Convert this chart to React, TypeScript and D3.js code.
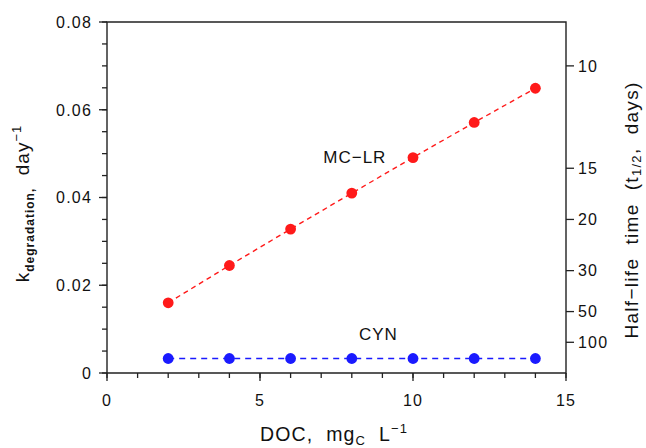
import React from "react";
import * as d3 from "d3";

const docValues = [2, 4, 6, 8, 10, 12, 14];
const mclrK = [0.0160, 0.0245, 0.0328, 0.0410, 0.0491, 0.0571, 0.0649];
const cynK = [0.0033, 0.0033, 0.0033, 0.0033, 0.0033, 0.0033, 0.0033];
const xTicks = [0, 5, 10, 15];
const yTicks = [0, 0.02, 0.04, 0.06, 0.08];
const halfLifeTicks = [10, 15, 20, 30, 50, 100];
const HALF_LIFE_CONST = 0.7;

const W = 646;
const H = 448;
const FONT = "'Liberation Sans', Arial, sans-serif";
const pre = { whiteSpace: "pre" as const };

export default function App() {
  const x = d3.scaleLinear().domain([0, 15]).range([107, 566]);
  const y = d3.scaleLinear().domain([0, 0.08]).range([373, 22]);
  const [x0, x1] = x.range();
  const [y0, y1] = y.range();

  const xMinor = d3.range(0, 15.01, 1);
  const yMinor = d3.range(0, 0.0801, 0.005);

  const line = d3
    .line<number>()
    .x((_, i) => x(docValues[i]))
    .y((d) => y(d));

  const tickStyle = { stroke: "#222", strokeWidth: 1.3 };

  return (
    <svg
      width={W}
      height={H}
      style={{ position: "absolute", left: 0, top: 0, background: "#fff" }}
      fontFamily={FONT}
    >
      <rect x={0} y={0} width={W} height={H} fill="#fff" />
      <path
        d={`M${x0},${y1} L${x0},${y0} L${x1},${y0} L${x1},${y1} Z`}
        fill="none"
        stroke="#222"
        strokeWidth={1.4}
      />
      {yMinor.map((v, i) => (
        <line key={"ym" + i} x1={x0 - 5} x2={x0} y1={y(v)} y2={y(v)} {...tickStyle} />
      ))}
      {yTicks.map((v) => (
        <g key={"yt" + v}>
          <line x1={x0 - 8} x2={x0} y1={y(v)} y2={y(v)} {...tickStyle} />
          <text
            x={x0 - 15}
            y={y(v)}
            dy="0.36em"
            textAnchor="end"
            fontSize={16}
            letterSpacing={1.2}
            fill="#111"
          >
            {v === 0 ? "0" : d3.format(".2f")(v)}
          </text>
        </g>
      ))}
      {xMinor.map((v, i) => (
        <line key={"xm" + i} x1={x(v)} x2={x(v)} y1={y0} y2={y0 + 5} {...tickStyle} />
      ))}
      {xTicks.map((v) => (
        <g key={"xt" + v}>
          <line x1={x(v)} x2={x(v)} y1={y0} y2={y0 + 8} {...tickStyle} />
          <text
            x={x(v)}
            y={y0 + 27}
            dy="0.36em"
            textAnchor="middle"
            fontSize={16}
            letterSpacing={1.2}
            fill="#111"
          >
            {v}
          </text>
        </g>
      ))}
      {halfLifeTicks.map((t) => {
        const yy = y(HALF_LIFE_CONST / t);
        return (
          <g key={"hl" + t}>
            <line x1={x1} x2={x1 + 8} y1={yy} y2={yy} {...tickStyle} />
            <text
              x={x1 + 12}
              y={yy}
              dy="0.36em"
              textAnchor="start"
              fontSize={16}
              letterSpacing={1.2}
              fill="#111"
            >
              {t}
            </text>
          </g>
        );
      })}

      <path
        d={line(mclrK) || ""}
        fill="none"
        stroke="#ff1a1a"
        strokeWidth={1.4}
        strokeDasharray="5,4"
      />
      <path
        d={line(cynK) || ""}
        fill="none"
        stroke="#1a1aff"
        strokeWidth={1.4}
        strokeDasharray="6,5"
      />
      {mclrK.map((v, i) => (
        <circle key={"r" + i} cx={x(docValues[i])} cy={y(v)} r={5.4} fill="#ff1a1a" />
      ))}
      {cynK.map((v, i) => (
        <circle key={"b" + i} cx={x(docValues[i])} cy={y(v)} r={5.4} fill="#1a1aff" />
      ))}

      <text x={x(8.1)} y={y(0.0479)} textAnchor="middle" fontSize={17} letterSpacing={1} fill="#111">
        MC−LR
      </text>
      <text x={x(8.87)} y={y(0.0075)} textAnchor="middle" fontSize={17} letterSpacing={1} fill="#111">
        CYN
      </text>

      <text
        x={334}
        y={441}
        textAnchor="middle"
        fontSize={19.5}
        letterSpacing={1.1}
        fill="#111"
        style={pre}
        xmlSpace="preserve"
      >
        <tspan>{"DOC,  mg"}</tspan>
        <tspan fontSize={13} dy={4}>C</tspan>
        <tspan dy={-4}>{"  L"}</tspan>
        <tspan fontSize={13} dy={-8}>−1</tspan>
      </text>

      <text
        transform={`translate(29,${(y0 + y1) / 2 + 6}) rotate(-90)`}
        textAnchor="middle"
        fontSize={19}
        letterSpacing={1}
        fill="#111"
        style={pre}
        xmlSpace="preserve"
      >
        <tspan>k</tspan>
        <tspan fontSize={12} fontWeight="bold" dy={5}>degradation,</tspan>
        <tspan dy={-5}>{"  day"}</tspan>
        <tspan fontSize={13} dy={-8}>−1</tspan>
      </text>

      <text
        transform={`translate(638,210) rotate(-90)`}
        textAnchor="middle"
        fontSize={19}
        letterSpacing={1.3}
        fill="#111"
        style={pre}
        xmlSpace="preserve"
      >
        <tspan>{"Half−life  time  (t"}</tspan>
        <tspan fontSize={13} dy={3}>1/2</tspan>
        <tspan dy={-3}>{",  days)"}</tspan>
      </text>
    </svg>
  );
}
